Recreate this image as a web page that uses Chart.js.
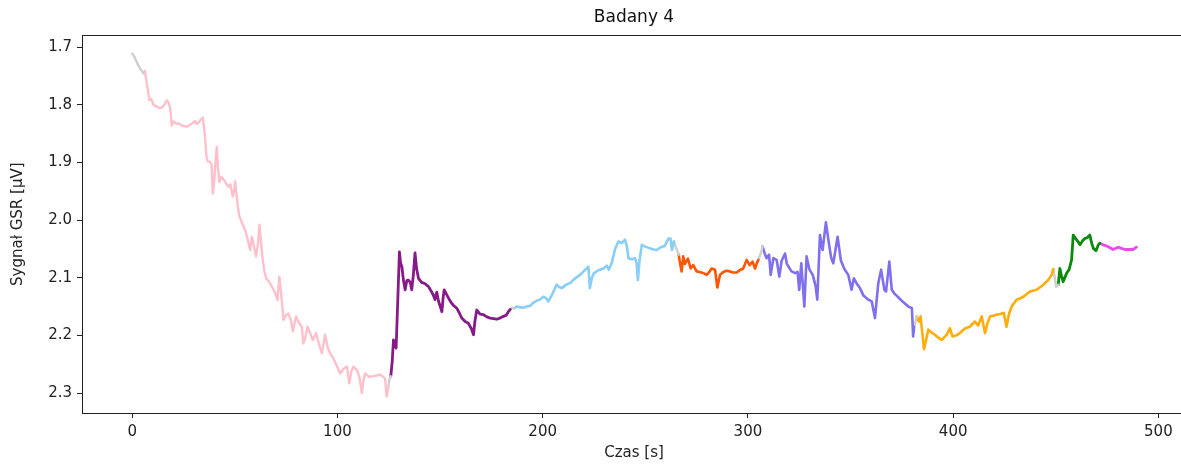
<!DOCTYPE html>
<html><head><meta charset="utf-8">
<script src="https://cdn.jsdelivr.net/npm/chart.js@4.4.1/dist/chart.umd.min.js"></script>
<style>html,body{margin:0;padding:0;overflow:hidden;background:#fff;width:1181px;height:466px}canvas{display:block}</style>
</head><body>
<canvas id="c" width="1192" height="466" style="width:1192px;height:466px"></canvas>
<script>
// ---- tick labels ----
const xTicks = [0, 100, 200, 300, 400, 500];
const yTicks = [1.7, 1.8, 1.9, 2.0, 2.1, 2.2, 2.3];

// ---- series (time [s], GSR [µV]) ----
const gray0T = [0, 1, 2.5, 4, 5.5];
const gray0V = [1.711, 1.716, 1.728, 1.738, 1.745];

const pinkT = [5.5,6.2,7.1,7.8,8.4,9.3,10.4,12,13.6,15.3,16.9,17.8,18.5,19.3,20.2,21.5,22.6,24.5,26.6,28.5,30.7,31.5,32.3,33.3,34.4,35.2,35.6,36.2,36.8,37.8,38.7,39.3,39.9,40.5,41.2,41.7,42.5,43.5,44.6,45.5,46.9,47.8,49.0,49.6,50.2,50.8,51.6,52.3,53.5,55.0,56.0,57.5,58.3,59.3,60.4,61.3,62.0,62.8,63.6,64.5,65.3,66.5,68.0,69.5,70.8,71.7,72.5,73.7,75.0,76.1,77.2,78.3,79.9,81.2,82.6,83.4,84.3,85.4,86.6,88.0,89.6,91.0,92.4,93.2,94.0,95.2,96.4,98.0,99.6,101.3,103.0,104.6,105.8,106.8,107.8,109.4,110.7,111.9,112.6,113.5,115.5,117.5,119.0,120.8,122.3,123.2,124.0,124.8];
const pinkV = [1.745,1.741,1.763,1.778,1.792,1.790,1.800,1.803,1.806,1.802,1.792,1.797,1.805,1.836,1.829,1.833,1.832,1.836,1.838,1.834,1.828,1.833,1.831,1.826,1.822,1.845,1.861,1.890,1.898,1.899,1.904,1.954,1.935,1.905,1.873,1.905,1.934,1.925,1.930,1.935,1.942,1.938,1.959,1.950,1.933,1.955,1.980,1.994,2.005,2.017,2.030,2.052,2.029,2.045,2.063,2.040,2.008,2.040,2.069,2.090,2.101,2.106,2.115,2.125,2.139,2.098,2.125,2.173,2.165,2.162,2.172,2.193,2.167,2.178,2.185,2.214,2.205,2.185,2.195,2.208,2.196,2.215,2.231,2.215,2.199,2.220,2.231,2.240,2.252,2.266,2.258,2.254,2.283,2.262,2.254,2.260,2.272,2.300,2.280,2.266,2.272,2.271,2.270,2.268,2.272,2.275,2.306,2.290];

const gray1T = [124.8, 125.3, 126];
const gray1V = [2.290, 2.277, 2.271];

const purpleT = [126,126.7,127.3,128.0,128.6,129.4,130.2,130.8,131.4,132.2,133.0,133.8,134.6,135.5,136.2,137.0,137.8,138.6,139.5,141.0,142.5,144.3,145.5,146.7,147.5,148.4,149.2,150.9,151.5,152.0,153.5,155.0,156.5,158.2,159.5,160.6,162.2,163.8,165.2,166.3,167.0,167.9,169.5,171.1,172.8,174.4,176.0,177.6,179.2,180.9,182.2,183.3,184.2];
const purpleV = [2.271,2.245,2.208,2.215,2.222,2.140,2.055,2.075,2.081,2.105,2.121,2.105,2.104,2.108,2.121,2.095,2.057,2.085,2.101,2.108,2.110,2.115,2.122,2.130,2.138,2.125,2.140,2.159,2.135,2.121,2.131,2.141,2.148,2.153,2.162,2.170,2.176,2.179,2.188,2.199,2.175,2.156,2.163,2.164,2.168,2.170,2.171,2.172,2.170,2.167,2.165,2.159,2.155];

const gray2T = [184.2, 185.2, 186];
const gray2V = [2.155, 2.152, 2.153];

const skyT = [186,187.4,189,190.5,192.2,193.9,195.5,197.0,198.6,200.3,201.5,202.8,204.5,206.8,208.0,209.3,211.5,213.5,215.5,218.2,220.2,222.3,223.0,224.0,225.0,227.2,229.6,231.2,232.2,233.6,235.3,236.9,238.5,240.1,241.0,241.8,243.5,245.0,245.8,246.4,247.2,248.3,250.0,252.3,254.0,255.6,257.5,259.4,261.3,262.3,263.0,263.6,264.0];
const skyV = [2.153,2.150,2.151,2.152,2.150,2.149,2.143,2.140,2.138,2.133,2.135,2.141,2.130,2.112,2.116,2.118,2.112,2.109,2.102,2.095,2.088,2.081,2.118,2.100,2.092,2.087,2.084,2.079,2.086,2.075,2.050,2.037,2.040,2.034,2.045,2.066,2.068,2.066,2.075,2.104,2.070,2.043,2.046,2.049,2.051,2.052,2.047,2.045,2.032,2.032,2.052,2.041,2.037];

const gray3T = [264, 265, 266.3];
const gray3V = [2.037, 2.048, 2.060];

const redT = [266.3,266.8,267.7,268.5,269.3,270.0,270.8,272.1,273.4,275.0,276.6,278.3,279.9,281.2,282.3,284.0,285.1,286.4,288.0,289.6,291.2,292.8,294.5,296.0,297.7,299.4,300.8,302.3,303.5,304.3,305.1];
const redV = [2.060,2.072,2.089,2.063,2.076,2.072,2.067,2.084,2.078,2.089,2.090,2.092,2.095,2.090,2.084,2.086,2.117,2.095,2.090,2.088,2.089,2.091,2.091,2.087,2.084,2.069,2.078,2.072,2.084,2.075,2.069];

const gray4T = [305.1, 306.2, 307.2];
const gray4V = [2.069, 2.058, 2.046];

const slateT = [307.2,308.2,309.1,310.3,311.1,312.4,314.0,315.3,316.4,318.1,318.9,320.5,321.3,323.0,324.2,325.0,326.0,327.5,328.6,330.0,331.6,333.0,333.8,335.1,336.4,338.0,339.7,340.6,341.6,343.7,345.3,347.0,348.9,350.5,351.6,353.0,354.6,356.3,358.7,360.3,361.9,363.5,364.9,366.5,367.3,368.9,370.1,371.5,373.0,374.7,376.6,378.2,379.9,380.5,381.0];
const slateV = [2.046,2.058,2.066,2.060,2.095,2.066,2.069,2.098,2.071,2.058,2.075,2.085,2.089,2.092,2.090,2.121,2.075,2.150,2.063,2.086,2.095,2.115,2.138,2.026,2.052,2.004,2.046,2.066,2.075,2.029,2.070,2.085,2.095,2.121,2.101,2.110,2.118,2.131,2.138,2.141,2.170,2.110,2.086,2.121,2.124,2.072,2.121,2.128,2.133,2.139,2.145,2.150,2.153,2.202,2.185];

const gray5T = [381.0, 381.7, 382.2];
const gray5V = [2.185, 2.175, 2.167];

const orangeT = [382.2,383.3,384.1,385.8,387.9,389.5,391.1,392.8,394.4,396.8,398.4,399.7,401.5,403.3,405.7,408.1,410.6,412.2,413.9,415.5,416.8,418.0,419.6,421.2,423.0,424.7,426.0,427.2,428.5,430.9,432.5,434.2,437.4,440.7,443.9,446.3,448.0,448.8];
const orangeV = [2.167,2.176,2.167,2.224,2.190,2.195,2.199,2.204,2.208,2.199,2.188,2.202,2.200,2.196,2.188,2.185,2.176,2.183,2.167,2.196,2.178,2.167,2.166,2.164,2.163,2.161,2.185,2.163,2.150,2.138,2.136,2.133,2.124,2.121,2.112,2.104,2.095,2.085];

const gray6T = [448.8, 449.5, 450.2, 451.2];
const gray6V = [2.085, 2.100, 2.116, 2.112];

const greenT = [451.2,452.0,452.8,453.6,455.3,456.5,457.7,458.5,459.3,460.1,461.0,461.8,463.0,464.2,465.4,466.6,467.5,468.3,469.6,470.7,471.5];
const greenV = [2.112,2.084,2.097,2.107,2.092,2.086,2.069,2.026,2.030,2.034,2.038,2.043,2.036,2.032,2.030,2.026,2.040,2.049,2.053,2.043,2.040];

const magentaT = [471.5,473.2,474.8,476.4,478.0,479.2,480.4,482.0,483.7,485.7,487.7,489.3];
const magentaV = [2.040,2.043,2.045,2.048,2.051,2.049,2.047,2.049,2.051,2.051,2.051,2.047];

// ---- styles (kept separate from data) ----
const GRAY = '#cfcfcf';
const segments = [
  {t: gray0T, v: gray0V, color: GRAY, w: 2.4},
  {t: pinkT, v: pinkV, color: '#ffc0cb', w: 2.4},
  {t: gray1T, v: gray1V, color: GRAY, w: 2.4},
  {t: purpleT, v: purpleV, color: '#851a88', w: 2.8},
  {t: gray2T, v: gray2V, color: GRAY, w: 2.4},
  {t: skyT, v: skyV, color: '#87cefa', w: 2.6},
  {t: gray3T, v: gray3V, color: GRAY, w: 2.4},
  {t: redT, v: redV, color: '#ff5500', w: 2.6},
  {t: gray4T, v: gray4V, color: GRAY, w: 2.4},
  {t: slateT, v: slateV, color: '#7f70ee', w: 2.6},
  {t: gray5T, v: gray5V, color: GRAY, w: 2.4},
  {t: orangeT, v: orangeV, color: '#ffad0a', w: 2.6},
  {t: gray6T, v: gray6V, color: GRAY, w: 2.4},
  {t: greenT, v: greenV, color: '#0a8a0a', w: 2.8},
  {t: magentaT, v: magentaV, color: '#f048f0', w: 2.8}
];

const FONT = "'DejaVu Sans', sans-serif";
const frame = {
  id: 'frame',
  afterDraw(chart) {
    const a = chart.chartArea, ctx = chart.ctx;
    ctx.save();
    ctx.strokeStyle = '#222';
    ctx.lineWidth = 1;
    ctx.strokeRect(Math.round(a.left) + 0.5, Math.round(a.top) + 0.5, Math.round(a.right - a.left), Math.round(a.bottom - a.top));
    ctx.restore();
  }
};

new Chart(document.getElementById('c'), {
  type: 'line',
  data: {
    datasets: segments.map(s => ({
      data: s.t.map((t, i) => ({x: t, y: s.v[i]})),
      borderColor: s.color,
      borderWidth: s.w,
      pointRadius: 0,
      fill: false,
      tension: 0,
      borderJoinStyle: 'round',
      borderCapStyle: 'round'
    }))
  },
  options: {
    responsive: false,
    animation: false,
    layout: {padding: {left: 0, right: 6, top: 0, bottom: 0}},
    plugins: {
      legend: {display: false},
      tooltip: {enabled: false},
      title: {
        display: true, text: 'Badany 4', fullSize: false, color: '#111',
        font: {family: FONT, size: 17, weight: 'normal'},
        padding: {top: 7, bottom: 8}
      }
    },
    scales: {
      x: {
        type: 'linear', min: -24.45, max: 513.45,
        afterBuildTicks: s => { s.ticks = xTicks.map(v => ({value: v})); },
        afterFit: s => { s.height = 53; },
        grid: {display: true, drawOnChartArea: false, drawTicks: true, tickLength: 5, color: '#222'},
        border: {display: false},
        ticks: {color: '#222', font: {family: FONT, size: 15}, padding: 5, maxRotation: 0, autoSkip: false},
        title: {display: true, text: 'Czas [s]', color: '#222', font: {family: FONT, size: 15}, padding: {top: 0, bottom: 4}}
      },
      y: {
        type: 'linear', reverse: true, min: 1.6795, max: 2.3347,
        afterBuildTicks: s => { s.ticks = yTicks.map(v => ({value: v})); },
        afterFit: s => { s.width = 82; },
        grid: {display: true, drawOnChartArea: false, drawTicks: true, tickLength: 5, color: '#222'},
        border: {display: false},
        ticks: {color: '#222', font: {family: FONT, size: 15}, padding: 5, callback: v => Number(v).toFixed(1)},
        title: {display: true, text: 'Sygnał GSR [µV]', color: '#222', font: {family: FONT, size: 15}, padding: {top: 9, bottom: 0}}
      }
    }
  },
  plugins: [frame]
});
</script>
</body></html>
